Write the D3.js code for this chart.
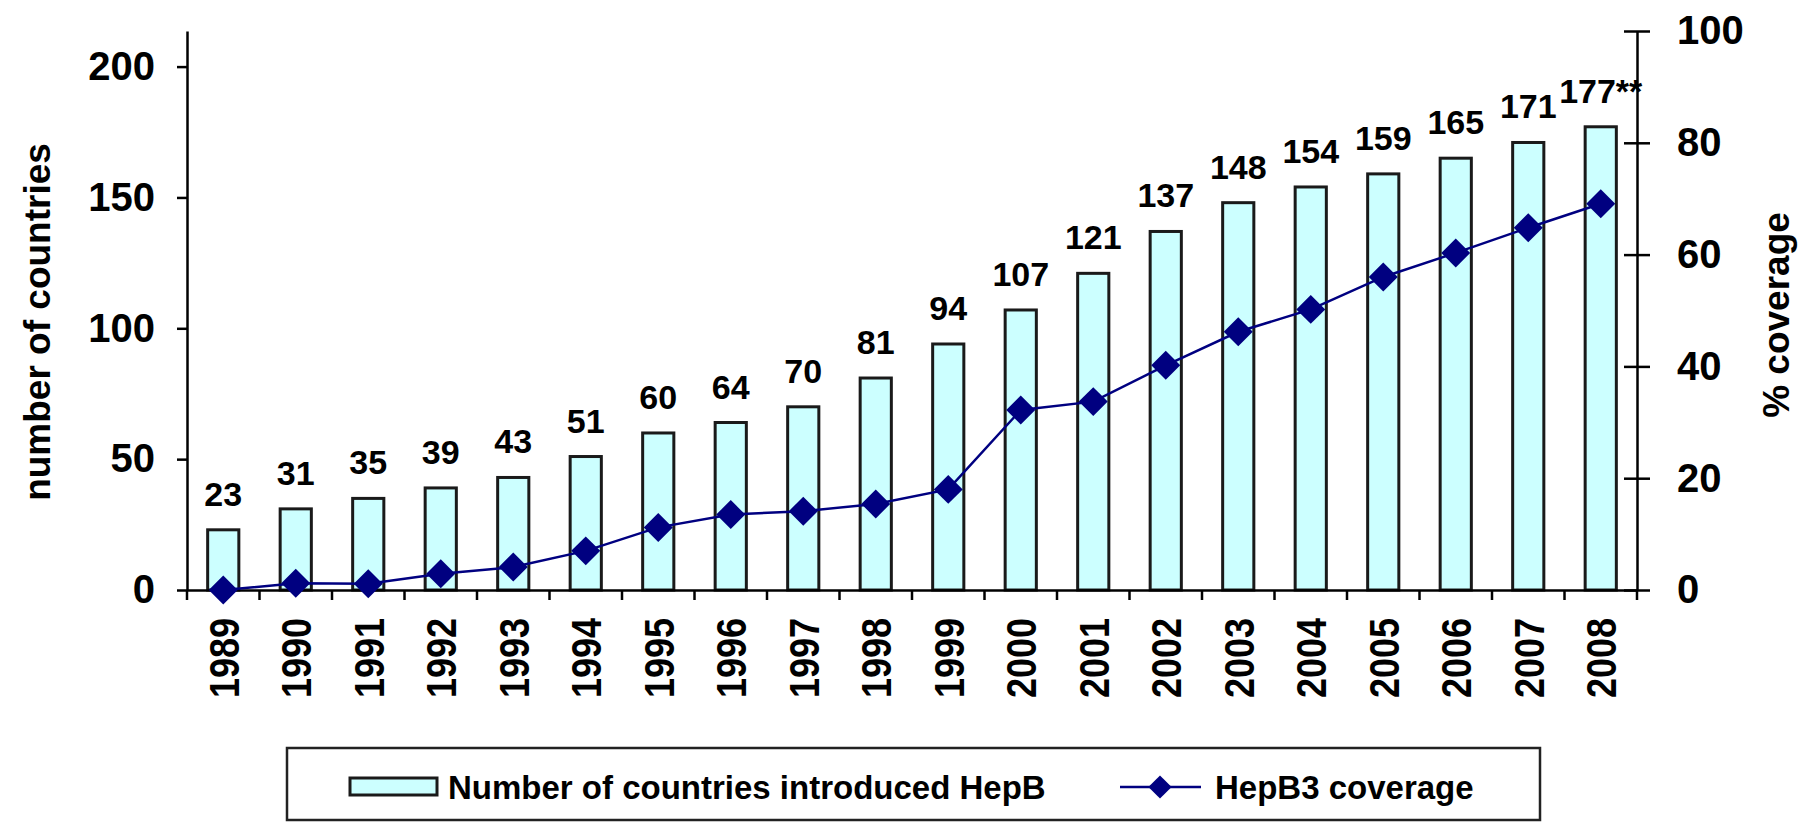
<!DOCTYPE html>
<html>
<head>
<meta charset="utf-8">
<script src="https://cdn.jsdelivr.net/npm/d3@7"></script>
<style>
  body { margin: 0; background: #fff; }
  text { font-family: "Liberation Sans", Arial, sans-serif; font-weight: bold; fill: #000; }
</style>
</head>
<body>
<div id="chart"></div>
<script>
// data
const years = ["1989","1990","1991","1992","1993","1994","1995","1996","1997","1998",
               "1999","2000","2001","2002","2003","2004","2005","2006","2007","2008"];
const countries = [23,31,35,39,43,51,60,64,70,81,94,107,121,137,148,154,159,165,171,177];
const barLabels = ["23","31","35","39","43","51","60","64","70","81","94","107","121","137","148","154","159","165","171","177**"];
const coverage = [0,1.2,1.1,2.9,4.1,7,11.2,13.5,14.1,15.4,18,32.2,33.7,40.2,46.2,50.2,56,60.3,64.8,69.1];
const leftTicks = [0,50,100,150,200];
const rightTicks = [0,20,40,60,80,100];

const W = 1802, H = 822;
const plot = { left: 187, right: 1637, top: 31, bottom: 590 };

const svg = d3.select("#chart").append("svg")
  .attr("width", W).attr("height", H);

const x = d3.scaleBand()
  .domain(years)
  .range([plot.left, plot.right])
  .paddingInner(0.57)
  .paddingOuter(0.285);

// left axis top sits a bit above 200
const yL = d3.scaleLinear().domain([0, 213.6]).range([plot.bottom, plot.top]);
const yR = d3.scaleLinear().domain([0, 100]).range([plot.bottom, plot.top]);

// bars
svg.append("g").selectAll("rect")
  .data(countries)
  .join("rect")
  .attr("x", (d, i) => x(years[i]))
  .attr("y", d => yL(d))
  .attr("width", x.bandwidth())
  .attr("height", d => yL(0) - yL(d))
  .attr("fill", "#ccffff")
  .attr("stroke", "#1a1a1a")
  .attr("stroke-width", 3);

// bar value labels
svg.append("g").selectAll("text")
  .data(barLabels)
  .join("text")
  .attr("x", (d, i) => x(years[i]) + x.bandwidth() / 2)
  .attr("y", (d, i) => yL(countries[i]) - 24)
  .attr("text-anchor", "middle")
  .style("font-size", "34px")
  .text(d => d);

// x axis (labels at band centres, ticks at band edges)
const xAxis = svg.append("g")
  .attr("transform", `translate(0,${plot.bottom})`)
  .call(d3.axisBottom(x).tickSize(0).tickSizeOuter(0));
xAxis.select(".domain").attr("stroke", "#000").attr("stroke-width", 2.5);
xAxis.selectAll(".tick text")
  .attr("transform", "scale(1.2,1) rotate(-90)")
  .attr("x", -28)
  .attr("y", 0)
  .attr("dy", "0.36em")
  .attr("text-anchor", "end")
  .style("font-size", "36px")
  .style("font-family", "Liberation Sans, Arial, sans-serif")
  .style("font-weight", "bold");

const step = x.step();
const edges = years.map(d => x(d) - (step - x.bandwidth()) / 2).concat([plot.right]);
xAxis.append("g").selectAll("line")
  .data(edges)
  .join("line")
  .attr("x1", d => d).attr("x2", d => d)
  .attr("y1", 0).attr("y2", 10)
  .attr("stroke", "#000").attr("stroke-width", 2.5);

// left axis
const lAxis = svg.append("g")
  .attr("transform", `translate(${plot.left},0)`)
  .call(d3.axisLeft(yL).tickValues(leftTicks).tickSize(10).tickSizeOuter(0).tickPadding(22));
lAxis.selectAll("path, line").attr("stroke", "#000").attr("stroke-width", 2.5);
lAxis.selectAll("text")
  .style("font-size", "40px")
  .style("font-family", "Liberation Sans, Arial, sans-serif")
  .style("font-weight", "bold");

// right axis, ticks cross the line
const rAxis = svg.append("g")
  .attr("transform", `translate(${plot.right},0)`)
  .call(d3.axisRight(yR).tickValues(rightTicks).tickSize(13).tickSizeOuter(0).tickPadding(27));
rAxis.selectAll(".tick line").attr("x1", -13);
rAxis.selectAll("path, line").attr("stroke", "#000").attr("stroke-width", 2.5);
rAxis.selectAll("text")
  .style("font-size", "40px")
  .style("font-family", "Liberation Sans, Arial, sans-serif")
  .style("font-weight", "bold");

// coverage line
const cx = (d, i) => x(years[i]) + x.bandwidth() / 2;
const line = d3.line().x(cx).y(d => yR(d));
svg.append("path")
  .datum(coverage)
  .attr("d", line)
  .attr("fill", "none")
  .attr("stroke", "#000080")
  .attr("stroke-width", 2.5);

const diamond = d3.symbol(d3.symbolSquare, 420);
svg.append("g").selectAll("path")
  .data(coverage)
  .join("path")
  .attr("d", diamond)
  .attr("transform", (d, i) => `translate(${cx(d, i)},${yR(d)}) rotate(45)`)
  .attr("fill", "#000080");

// axis titles
svg.append("text")
  .attr("transform", "translate(50,322) rotate(-90)")
  .attr("text-anchor", "middle")
  .style("font-size", "37px")
  .text("number of countries");

svg.append("text")
  .attr("transform", "translate(1789,315) rotate(-90)")
  .attr("text-anchor", "middle")
  .style("font-size", "37px")
  .text("% coverage");

// legend
const legend = svg.append("g");
legend.append("rect")
  .attr("x", 287).attr("y", 748)
  .attr("width", 1253).attr("height", 72)
  .attr("fill", "#fff")
  .attr("stroke", "#222")
  .attr("stroke-width", 2.5);
legend.append("rect")
  .attr("x", 350).attr("y", 778)
  .attr("width", 87).attr("height", 17)
  .attr("fill", "#ccffff")
  .attr("stroke", "#1a1a1a")
  .attr("stroke-width", 3);
legend.append("text")
  .attr("x", 448).attr("y", 799)
  .style("font-size", "33px")
  .text("Number of countries introduced  HepB");
legend.append("line")
  .attr("x1", 1120).attr("x2", 1201)
  .attr("y1", 787).attr("y2", 787)
  .attr("stroke", "#000080").attr("stroke-width", 2.5);
legend.append("path")
  .attr("d", d3.symbol(d3.symbolSquare, 270))
  .attr("transform", "translate(1160,787) rotate(45)")
  .attr("fill", "#000080");
legend.append("text")
  .attr("x", 1215).attr("y", 799)
  .style("font-size", "33px")
  .text("HepB3 coverage");
</script>
</body>
</html>
